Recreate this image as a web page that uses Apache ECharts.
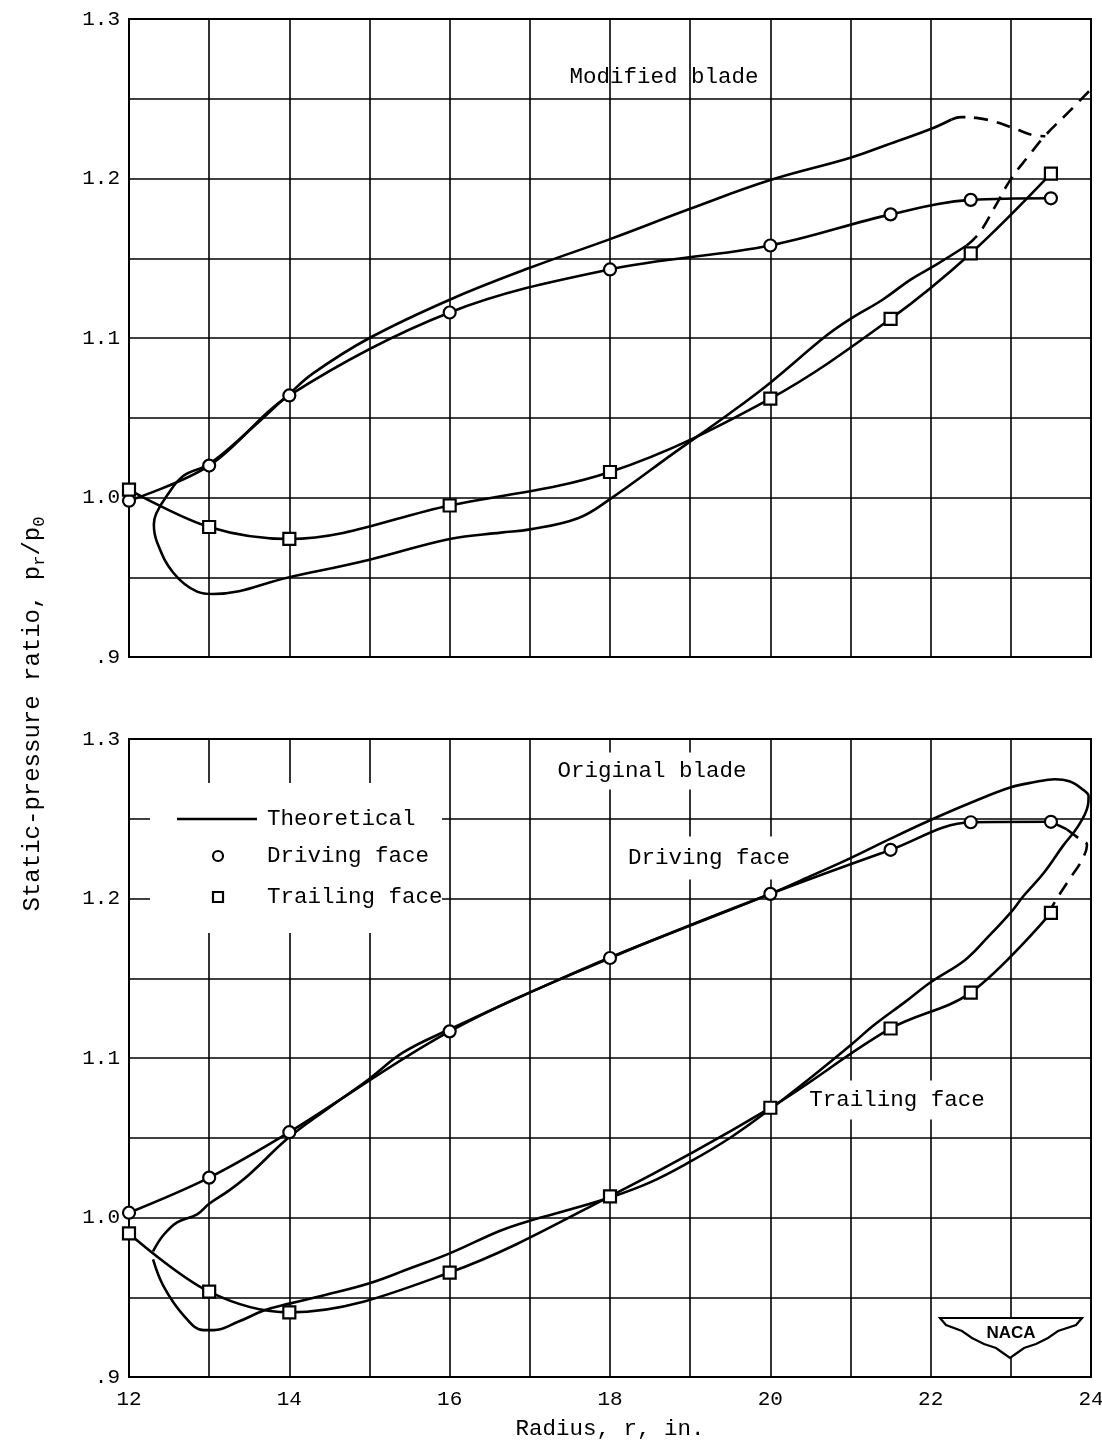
<!DOCTYPE html>
<html>
<head>
<meta charset="utf-8">
<script src="https://cdn.jsdelivr.net/npm/echarts@6/dist/echarts.min.js"></script>
<style>
html,body{margin:0;padding:0;background:#fff;}
#chart{width:1102px;height:1446px;}
</style>
</head>
<body>
<div id="chart"></div>
<script>
// ---------- tick labels ----------
const xTickValues = [12, 14, 16, 18, 20, 22, 24];
const xTickLabels = ['12', '14', '16', '18', '20', '22', '24'];
const yTickValues = [0.9, 1.0, 1.1, 1.2, 1.3];
const yTickLabels = ['.9', '1.0', '1.1', '1.2', '1.3'];

// ---------- Top panel: Modified blade ----------
const modDrivingX  = [12, 13, 14, 16, 18, 20, 21.5, 22.5, 23.5];
const modDrivingY  = [0.998, 1.020, 1.064, 1.116, 1.143, 1.158, 1.1775, 1.1866, 1.1876];
const modTrailingX = [12, 13, 14, 16, 18, 20, 21.5, 22.5, 23.5];
const modTrailingY = [1.005, 0.9815, 0.974, 0.995, 1.016, 1.062, 1.112, 1.153, 1.203];
// theoretical (solid): upper branch right->left, nose, lower branch left->right
const modTheoX = [22.26, 22.0, 21.45, 21.0, 20.0, 19.0, 18.0, 17.0, 16.0, 15.0, 14.3, 14.0, 13.5, 13.0, 12.68, 12.47, 12.34, 12.31, 12.35, 12.55, 12.85, 13.05, 14.0, 15.0, 16.0, 16.64, 17.0, 17.6, 18.0, 18.8, 19.5, 20.0, 20.7, 21.0, 21.4, 21.75, 22.07, 22.45];
const modTheoY = [1.237, 1.231, 1.221, 1.213, 1.199, 1.181, 1.162, 1.144, 1.124, 1.100, 1.078, 1.065, 1.042, 1.021, 1.0136, 1.001, 0.990, 0.983, 0.972, 0.953, 0.941, 0.9395, 0.950, 0.961, 0.974, 0.978, 0.980, 0.987, 0.999, 1.028, 1.053, 1.072, 1.1015, 1.112, 1.124, 1.1366, 1.146, 1.158];
// theoretical (dashed) hump at tip and dashed rise at tip
const modHumpX = [22.26, 22.38, 22.57, 22.81, 23.06, 23.3, 23.43];
const modHumpY = [1.237, 1.2385, 1.238, 1.2355, 1.231, 1.227, 1.2265];
const modRiseX = [22.45, 22.61, 22.81, 23.0, 23.22, 23.43, 23.72, 24.0];
const modRiseY = [1.158, 1.166, 1.183, 1.1996, 1.214, 1.227, 1.2416, 1.256];

// ---------- Bottom panel: Original blade ----------
const origDrivingX  = [12, 13, 14, 16, 18, 20, 21.5, 22.5, 23.5];
const origDrivingY  = [1.003, 1.025, 1.0535, 1.1167, 1.1627, 1.2029, 1.2305, 1.2478, 1.2481];
const origTrailingX = [12, 13, 14, 16, 18, 20, 21.5, 22.5, 23.5];
const origTrailingY = [0.990, 0.9535, 0.9405, 0.9655, 1.0133, 1.0688, 1.1185, 1.141, 1.191];
// short solid continuation of driving face, then dashed link to trailing face
const origTailX = [23.5, 23.7];
const origTailY = [1.2481, 1.2433];
const origDashX = [23.7, 23.84, 23.95, 23.88, 23.73, 23.57, 23.49];
const origDashY = [1.2433, 1.238, 1.2335, 1.2235, 1.212, 1.1996, 1.1925];
// theoretical: from cusp along upper branch, round the tip, back along lower branch to cusp
const origTheoX = [12.30, 12.43, 12.6, 12.85, 13.0, 13.25, 13.5, 14.0, 14.5, 15.0, 15.42, 16.0, 17.0, 18.0, 19.0, 20.0, 20.5, 21.0, 21.5, 22.0, 22.5, 23.0, 23.3, 23.55, 23.73, 23.88, 23.97, 23.96, 23.84, 23.65, 23.41, 23.16, 23.0, 22.71, 22.43, 22.0, 21.69, 21.29, 21.0, 20.5, 20.0, 19.5, 19.0, 18.5, 18.0, 17.5, 17.0, 16.63, 16.0, 15.5, 15.0, 14.41, 14.0, 13.69, 13.36, 13.06, 12.93, 12.68, 12.43, 12.30];
const origTheoY = [0.9788, 0.989, 0.997, 1.002, 1.0086, 1.017, 1.027, 1.0504, 1.069, 1.087, 1.1035, 1.118, 1.141, 1.163, 1.183, 1.2029, 1.214, 1.2253, 1.2375, 1.2492, 1.26, 1.2697, 1.273, 1.2748, 1.2735, 1.269, 1.264, 1.258, 1.2454, 1.233, 1.216, 1.2017, 1.1913, 1.1756, 1.1615, 1.1475, 1.1355, 1.1205, 1.108, 1.0875, 1.068, 1.05, 1.035, 1.022, 1.0125, 1.005, 0.998, 0.9917, 0.9775, 0.968, 0.9588, 0.951, 0.946, 0.9418, 0.9346, 0.9294, 0.9294, 0.9387, 0.957, 0.9737];

// ---------- helpers ----------
const pairs = (xs, ys) => xs.map((x, i) => [x, ys[i]]);
const FONT = '"Liberation Mono", "DejaVu Sans Mono", monospace';
const INK = '#000';
const FS = 22.5;

const gridLeft = 129, gridRight = 11, gridH = 638;
const topGridTop = 19, botGridTop = 739;

function xAxisFor(gridIndex, showLabels) {
  return {
    type: 'value', gridIndex, min: 12, max: 24, interval: 1,
    axisLine: { show: true, lineStyle: { color: INK, width: 2 } },
    axisTick: { show: false },
    splitLine: { show: true, lineStyle: { color: INK, width: 1.6 } },
    axisLabel: {
      show: showLabels, margin: 12, color: INK, fontFamily: FONT, fontSize: 21,
      formatter: v => {
        const i = xTickValues.findIndex(t => Math.abs(t - v) < 1e-6);
        return i >= 0 ? xTickLabels[i] : '';
      }
    },
    name: showLabels ? 'Radius, r, in.' : '',
    nameLocation: 'middle', nameGap: 41,
    nameTextStyle: { color: INK, fontFamily: FONT, fontSize: FS }
  };
}
function yAxisFor(gridIndex) {
  return {
    type: 'value', gridIndex, min: 0.9, max: 1.3, interval: 0.05,
    axisLine: { show: true, lineStyle: { color: INK, width: 2 } },
    axisTick: { show: false },
    splitLine: { show: true, lineStyle: { color: INK, width: 1.6 } },
    axisLabel: {
      margin: 9, color: INK, fontFamily: FONT, fontSize: 21,
      formatter: v => {
        const i = yTickValues.findIndex(t => Math.abs(t - v) < 1e-6);
        return i >= 0 ? yTickLabels[i] : '';
      }
    }
  };
}

const lineW = 2.6;
function curve(name, idx, xs, ys, opts) {
  opts = opts || {};
  return {
    name, type: 'line', xAxisIndex: idx, yAxisIndex: idx,
    data: pairs(xs, ys),
    smooth: opts.smooth == null ? 0.35 : opts.smooth,
    symbol: opts.symbol || 'none',
    symbolSize: opts.symbolSize || 12,
    showAllSymbol: true,
    itemStyle: { color: '#fff', borderColor: INK, borderWidth: 2.2 },
    lineStyle: { color: INK, width: lineW, type: opts.dashed ? [14, 9] : 'solid' },
    z: opts.z || 3,
    clip: true,
    silent: true
  };
}

const series = [
  // top
  curve('Theoretical', 0, modTheoX, modTheoY, { smooth: 0.4 }),
  curve('Theoretical', 0, modHumpX, modHumpY, { dashed: true, smooth: 0.4 }),
  curve('Theoretical', 0, modRiseX, modRiseY, { dashed: true, smooth: 0.4 }),
  curve('Driving face', 0, modDrivingX, modDrivingY, { symbol: 'circle', symbolSize: 12, z: 5 }),
  curve('Trailing face', 0, modTrailingX, modTrailingY, { symbol: 'rect', symbolSize: 12, z: 5 }),
  // bottom
  curve('Theoretical', 1, origTheoX, origTheoY, { smooth: 0.4 }),
  curve('Driving face', 1, origTailX, origTailY, { smooth: 0 }),
  curve('Driving face', 1, origDashX, origDashY, { dashed: true, smooth: 0.4 }),
  curve('Driving face', 1, origDrivingX, origDrivingY, { symbol: 'circle', symbolSize: 12, z: 5 }),
  curve('Trailing face', 1, origTrailingX, origTrailingY, { symbol: 'rect', symbolSize: 12, z: 5 })
];

const txt = (x, y, text, extra, z) => ({
  type: 'text', x, y, z: z == null ? 100 : z,
  style: Object.assign({ text, fill: INK, font: FS + 'px ' + FONT, textAlign: 'center', textVerticalAlign: 'middle' }, extra || {})
});

const graphic = [
  // panel captions (below the curves, above the grid)
  txt(664, 77, 'Modified blade', null, 1),
  txt(652, 771, 'Original blade', { backgroundColor: '#fff', padding: [7, 4] }, 1),
  txt(709, 858, 'Driving face', { backgroundColor: '#fff', padding: [10, 4] }, 1),
  txt(897, 1100, 'Trailing face', { backgroundColor: '#fff', padding: [8, 4] }, 1),
  // legend box
  { type: 'rect', z: 99, shape: { x: 150, y: 783, width: 292, height: 150 }, style: { fill: '#fff' } },
  { type: 'line', z: 100, shape: { x1: 177, y1: 819, x2: 257, y2: 819 }, style: { stroke: INK, lineWidth: 2.6 } },
  txt(267, 819, 'Theoretical', { textAlign: 'left' }),
  { type: 'circle', z: 100, shape: { cx: 218, cy: 856, r: 5 }, style: { fill: '#fff', stroke: INK, lineWidth: 2.2 } },
  txt(267, 856, 'Driving face', { textAlign: 'left' }),
  { type: 'rect', z: 100, shape: { x: 213, y: 892, width: 10, height: 10 }, style: { fill: '#fff', stroke: INK, lineWidth: 2.2 } },
  txt(267, 897, 'Trailing face', { textAlign: 'left' }),
  // y axis title
  {
    type: 'text', x: 33, y: 714, rotation: Math.PI / 2, z: 100,
    style: {
      text: 'Static-pressure ratio, p{s|r}/p{s|0}',
      fill: INK, font: '24px ' + FONT, textAlign: 'center', textVerticalAlign: 'middle',
      rich: { s: { fontSize: 17, fontFamily: FONT, fill: INK, padding: [12, 0, 0, 0] } }
    }
  },
  // NACA logo
  {
    type: 'polygon', z: 100,
    shape: { points: [[940, 1318], [1082, 1318], [1076, 1325], [1058, 1331], [1048, 1338], [1036, 1344], [1024, 1348], [1017, 1353], [1010, 1358], [1003, 1353], [996, 1348], [984, 1344], [972, 1338], [962, 1331], [946, 1325]] },
    style: { fill: '#fff', stroke: INK, lineWidth: 2.2 }
  },
  {
    type: 'text', x: 1011, y: 1333, z: 101,
    style: { text: 'NACA', fill: INK, font: 'bold 17px "Liberation Sans", Arial, sans-serif', textAlign: 'center', textVerticalAlign: 'middle' }
  }
];

const chart = echarts.init(document.getElementById('chart'), null, { renderer: 'canvas' });
chart.setOption({
  animation: false,
  backgroundColor: '#fff',
  grid: [
    { left: gridLeft, right: gridRight, top: topGridTop, height: gridH, show: true, borderColor: INK, borderWidth: 2, outerBoundsMode: 'none', containLabel: false },
    { left: gridLeft, right: gridRight, top: botGridTop, height: gridH, show: true, borderColor: INK, borderWidth: 2, outerBoundsMode: 'none', containLabel: false }
  ],
  xAxis: [xAxisFor(0, false), xAxisFor(1, true)],
  yAxis: [yAxisFor(0), yAxisFor(1)],
  series,
  graphic
});
</script>
</body>
</html>
